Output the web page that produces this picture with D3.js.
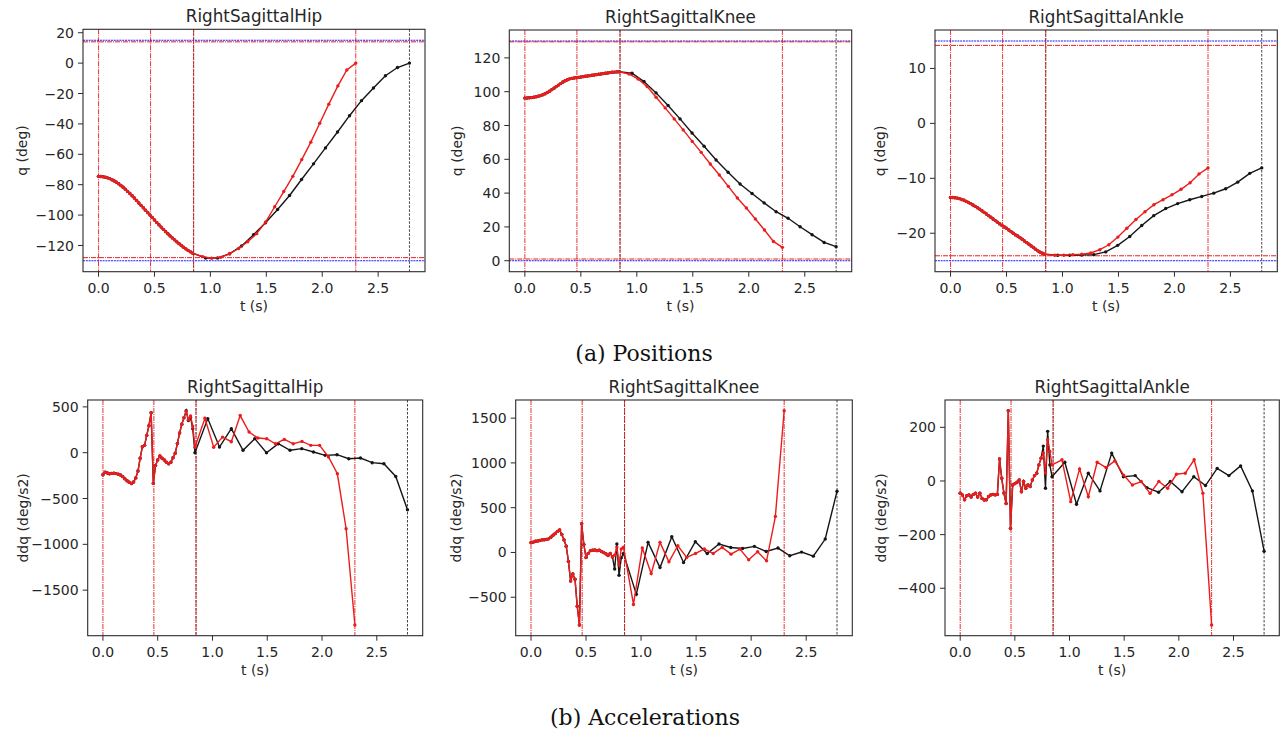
<!DOCTYPE html>
<html><head><meta charset="utf-8">
<script src="https://cdn.jsdelivr.net/npm/d3@7"></script>
<style>
body{margin:0;background:#fff;}
svg text{font-family:"DejaVu Sans",sans-serif;fill:#262626;}
</style></head><body>
<svg id="c" width="1285" height="738"></svg>
<script>
// ---------- time grids ----------
const tDense = [0.00,0.02,0.04,0.06,0.08,0.10,0.12,0.14,0.16,0.18,0.20,0.22,0.24,0.26,0.28,0.30,0.32,0.34,0.36,0.38,0.40,0.42,0.44,0.46,0.48,0.50,0.52,0.54,0.56,0.58,0.60,0.62,0.64,0.66,0.68,0.70,0.72,0.74,0.76,0.78,0.80,0.82,0.84];
const tRedTail = [0.931,1.011,1.092,1.172,1.253,1.334,1.414,1.495,1.575,1.656,1.737,1.817,1.898,1.978,2.059,2.140,2.220,2.300];
const tBlackTail = [0.957,1.064,1.172,1.279,1.386,1.493,1.601,1.708,1.815,1.922,2.029,2.137,2.244,2.351,2.458,2.565,2.673,2.780];
const redPhaseTimes = [0, 0.465, 0.85, 2.30];
const blackPhaseTimes = [0.85, 2.78];

// ---------- positions q (deg) ----------
const hipQDense = [-74.5,-74.6,-74.8,-75.1,-75.5,-76.0,-76.7,-77.5,-78.4,-79.4,-80.5,-81.7,-83.0,-84.4,-85.8,-87.3,-88.8,-90.4,-92.0,-93.6,-95.2,-96.8,-98.4,-100.0,-101.6,-103.2,-104.8,-106.4,-107.9,-109.4,-110.9,-112.3,-113.7,-115.0,-116.3,-117.6,-118.8,-120.0,-121.1,-122.2,-123.2,-124.1,-125.0];
const hipQRedTail = [-127.3,-128.4,-127.8,-125.3,-122.0,-117.5,-112.2,-104.5,-94.5,-84.5,-74.5,-63.5,-52.0,-39.6,-27.0,-15.0,-4.5,0.0];
const hipQBlackTail = [-128.3,-128.2,-125.5,-120.3,-112.9,-105.0,-96.3,-87.1,-76.6,-66.3,-55.8,-45.3,-34.6,-24.7,-16.4,-8.3,-2.9,0.0];
const hipQBlueLimits = [-130, 15];
const hipQRedLimits = [-128, 14];

const kneeQDense = [96.2,96.3,96.4,96.5,96.7,97.0,97.3,97.7,98.2,98.8,99.5,100.3,101.2,102.1,103.0,103.9,104.8,105.7,106.5,107.1,107.6,107.9,108.1,108.3,108.5,108.7,108.9,109.1,109.3,109.5,109.7,109.9,110.1,110.3,110.5,110.7,110.9,111.1,111.3,111.5,111.6,111.7,111.8];
const kneeQRedTail = [110.5,107.5,103.0,96.7,90.4,83.9,77.4,70.6,64.1,57.2,50.7,44.0,37.1,31.2,24.7,18.2,11.4,7.9];
const kneeQBlackTail = [110.9,106.0,99.3,91.8,83.9,75.6,67.7,59.6,52.3,45.4,39.8,34.2,29.0,25.1,20.1,15.4,10.8,8.3];
const kneeQBlueLimits = [0, 130];
const kneeQRedLimits = [1, 129.5];

const ankleQDense = [-13.5,-13.5,-13.55,-13.6,-13.7,-13.85,-14.0,-14.2,-14.4,-14.6,-14.85,-15.1,-15.35,-15.6,-15.9,-16.2,-16.5,-16.8,-17.1,-17.4,-17.7,-18.0,-18.3,-18.6,-18.85,-19.1,-19.4,-19.7,-20.0,-20.3,-20.5,-20.8,-21.1,-21.4,-21.7,-22.0,-22.3,-22.6,-22.9,-23.2,-23.45,-23.65,-23.8];
const ankleQRedTail = [-24.0,-24.0,-23.9,-23.8,-23.6,-23.0,-22.1,-20.7,-19.1,-17.5,-16.1,-14.8,-13.9,-13.0,-12.0,-10.8,-9.2,-8.1];
const ankleQBlackTail = [-24.0,-24.0,-23.95,-23.9,-23.4,-22.2,-20.6,-18.6,-16.8,-15.5,-14.6,-13.9,-13.3,-12.7,-11.9,-10.7,-9.1,-8.1];
const ankleQBlueLimits = [-25, 15];
const ankleQRedLimits = [-24.1, 14.2];

// ---------- accelerations ddq (deg/s2) ----------
const hipDdqDense = [-240,-212,-222,-230,-226,-224,-228,-236,-244,-260,-285,-306,-322,-337,-320,-275,-200,-60,65,80,189,295,435,-335,-140,-80,-35,-60,-80,-105,-120,-105,-55,-5,100,215,310,385,450,360,400,290,60];
const hipDdqBlackLate = [380,458,350,385,260,0];
const hipDdqRedTail = [375,60,170,120,405,225,160,152,97,145,97,123,80,80,-47,-230,-830,-1880];
const hipDdqBlackTail = [372,61,262,26,153,0,98,26,44,7,-29,-22,-66,-58,-109,-120,-259,-623];

const kneeDdqDense = [110,115,125,128,133,140,142,146,152,170,192,212,235,250,200,140,70,-100,-320,-240,-300,-600,-810,320,90,-55,-10,20,25,28,20,25,10,0,-15,-35,-10,-50,-30,60,-140,40,60];
const kneeDdqBlackLate = [-50,-185,94,-255,-60,-10];
const kneeDdqRedTail = [-581,49,-236,113,-105,75,-56,-11,38,-11,56,-19,38,-82,8,-94,401,1583];
const kneeDdqBlackTail = [-468,113,-169,176,-113,120,-11,94,56,45,68,11,49,-37,4,-41,150,683];

const ankleDdqDense = [-46,-52,-70,-55,-52,-60,-50,-46,-60,-46,-65,-71,-70,-58,-52,-50,-52,-50,82,10,-45,-84,262,-177,-15,-10,-5,4,-40,-2,-27,-15,-21,4,20,29,60,85,104,30,154,110,60];
const ankleDdqBlackLate = [85,130,-27,185,60,16];
const ankleDdqRedTail = [79,-77,45,-59,70,50,75,22,-15,-2,-46,-2,-27,25,29,79,-46,-537];
const ankleDdqBlackTail = [70,-87,29,-37,104,16,20,-25,-42,-2,-40,16,-17,47,20,56,-37,-262];

// ---------- tick labels ----------
const xTicks = [0, 0.5, 1.0, 1.5, 2.0, 2.5];
const hipQTicks = [-120,-100,-80,-60,-40,-20,0,20];
const kneeQTicks = [0,20,40,60,80,100,120];
const ankleQTicks = [-20,-10,0,10];
const hipDdqTicks = [-1500,-1000,-500,0,500];
const kneeDdqTicks = [-500,0,500,1000,1500];
const ankleDdqTicks = [-400,-200,0,200];
const titles = ["RightSagittalHip","RightSagittalKnee","RightSagittalAnkle"];
const captions = ["(a) Positions","(b) Accelerations"];

// ---------- build series ----------
function zip(ts, vs){ return ts.map((t,i)=>({t:t, v:vs[i]})); }
function redSeries(dense, tail){ return zip(tDense.concat(tRedTail), dense.concat(tail)); }
function blackSeries(dense, tail, late){
  let d = dense.slice();
  if (late) d = dense.slice(0, tDense.length - late.length).concat(late);
  return zip(tDense.concat(tBlackTail), d.concat(tail));
}

const RED = "#ec1c1c", BLACK = "#151515", BLUE = "#1a1aff", AX = "#2b2b2b";

const panels = [
  {box:[83,425,29.3,271.7], title:titles[0], ylabel:"q (deg)", labX:21.7, yt:hipQTicks,
   red:redSeries(hipQDense,hipQRedTail), black:blackSeries(hipQDense,hipQBlackTail), blue:hipQBlueLimits, redL:hipQRedLimits},
  {box:[509.3,851.7,30,271.7], title:titles[1], ylabel:"q (deg)", labX:456.7, yt:kneeQTicks,
   red:redSeries(kneeQDense,kneeQRedTail), black:blackSeries(kneeQDense,kneeQBlackTail), blue:kneeQBlueLimits, redL:kneeQRedLimits},
  {box:[935,1277.3,30,271.7], title:titles[2], ylabel:"q (deg)", labX:880, yt:ankleQTicks,
   red:redSeries(ankleQDense,ankleQRedTail), black:blackSeries(ankleQDense,ankleQBlackTail), blue:ankleQBlueLimits, redL:ankleQRedLimits},
  {box:[87.7,422.7,400,635.7], title:titles[0], ylabel:"ddq (deg/s2)", labX:22.5, yt:hipDdqTicks,
   red:redSeries(hipDdqDense,hipDdqRedTail), black:blackSeries(hipDdqDense,hipDdqBlackTail,hipDdqBlackLate)},
  {box:[515.7,852.3,400,635.7], title:titles[1], ylabel:"ddq (deg/s2)", labX:455.7, yt:kneeDdqTicks,
   red:redSeries(kneeDdqDense,kneeDdqRedTail), black:blackSeries(kneeDdqDense,kneeDdqBlackTail,kneeDdqBlackLate)},
  {box:[945,1279.3,400,635.7], title:titles[2], ylabel:"ddq (deg/s2)", labX:881, yt:ankleDdqTicks,
   red:redSeries(ankleDdqDense,ankleDdqRedTail), black:blackSeries(ankleDdqDense,ankleDdqBlackTail,ankleDdqBlackLate)}
];

const svg = d3.select("#c");
const fmtX = d3.format(".1f"), fmtY = d3.format("d");

function padded(lo, hi){ const p = (hi-lo)*0.05; return [lo-p, hi+p]; }

panels.forEach(P => {
  const [x0,x1,y0,y1] = P.box;
  const allT = P.red.concat(P.black).map(d=>d.t).concat(redPhaseTimes, blackPhaseTimes);
  const x = d3.scaleLinear().domain(padded(d3.min(allT), d3.max(allT))).range([x0,x1]);
  let allV = P.red.concat(P.black).map(d=>d.v);
  if (P.blue) allV = allV.concat(P.blue, P.redL);
  const y = d3.scaleLinear().domain(padded(d3.min(allV), d3.max(allV))).range([y1,y0]);
  const g = svg.append("g");

  // phase lines (vertical)
  blackPhaseTimes.forEach(t => g.append("line").attr("x1",x(t)).attr("x2",x(t)).attr("y1",y0).attr("y2",y1)
    .attr("stroke",BLACK).attr("stroke-width",0.8).attr("stroke-dasharray","2.5,1.5"));
  redPhaseTimes.forEach(t => g.append("line").attr("x1",x(t)).attr("x2",x(t)).attr("y1",y0).attr("y2",y1)
    .attr("stroke",RED).attr("stroke-width",0.9).attr("stroke-dasharray","5,1,1,1"));

  // limit lines (horizontal)
  if (P.blue) {
    P.blue.forEach(v => g.append("line").attr("x1",x0).attr("x2",x1).attr("y1",y(v)).attr("y2",y(v))
      .attr("stroke",BLUE).attr("stroke-width",1.1).attr("stroke-dasharray","2,0.8"));
    P.redL.forEach(v => g.append("line").attr("x1",x0).attr("x2",x1).attr("y1",y(v)).attr("y2",y(v))
      .attr("stroke",RED).attr("stroke-width",1).attr("stroke-dasharray","5,1,1,1"));
  }

  const line = d3.line().x(d=>x(d.t)).y(d=>y(d.v));
  [[P.black,BLACK],[P.red,RED]].forEach(([S,c]) => {
    g.append("path").datum(S).attr("d",line).attr("fill","none").attr("stroke",c).attr("stroke-width",1.4);
    g.selectAll(null).data(S).enter().append("circle")
      .attr("cx",d=>x(d.t)).attr("cy",d=>y(d.v)).attr("r",1.7).attr("fill",c);
  });

  // frame
  g.append("rect").attr("x",x0).attr("y",y0).attr("width",x1-x0).attr("height",y1-y0)
    .attr("fill","none").attr("stroke",AX).attr("stroke-width",1.1);

  // x ticks
  xTicks.forEach(t => {
    g.append("line").attr("x1",x(t)).attr("x2",x(t)).attr("y1",y1).attr("y2",y1+5).attr("stroke",AX).attr("stroke-width",1);
    g.append("text").attr("x",x(t)).attr("y",y1+21).attr("text-anchor","middle").attr("font-size",14).text(fmtX(t));
  });
  // y ticks
  P.yt.forEach(v => {
    g.append("line").attr("x1",x0-5).attr("x2",x0).attr("y1",y(v)).attr("y2",y(v)).attr("stroke",AX).attr("stroke-width",1);
    g.append("text").attr("x",x0-9).attr("y",y(v)).attr("dy","0.36em").attr("text-anchor","end").attr("font-size",14).text(fmtY(v));
  });
  // labels
  g.append("text").attr("x",(x0+x1)/2).attr("y",y1+39.5).attr("text-anchor","middle").attr("font-size",14).text("t (s)");
  g.append("text").attr("transform",`translate(${P.labX},${(y0+y1)/2}) rotate(-90)`).attr("dy","0.36em")
    .attr("text-anchor","middle").attr("font-size",14).text(P.ylabel);
  g.append("text").attr("x",(x0+x1)/2).attr("y",y0-7.5).attr("text-anchor","middle").attr("font-size",16.8).text(P.title);
});

svg.append("text").attr("x",644).attr("y",361).attr("text-anchor","middle")
  .style("font-family","'DejaVu Serif',serif").style("fill","#111").attr("font-size",22).text(captions[0]);
svg.append("text").attr("x",645).attr("y",725).attr("text-anchor","middle")
  .style("font-family","'DejaVu Serif',serif").style("fill","#111").attr("font-size",22).text(captions[1]);
</script>
</body></html>
